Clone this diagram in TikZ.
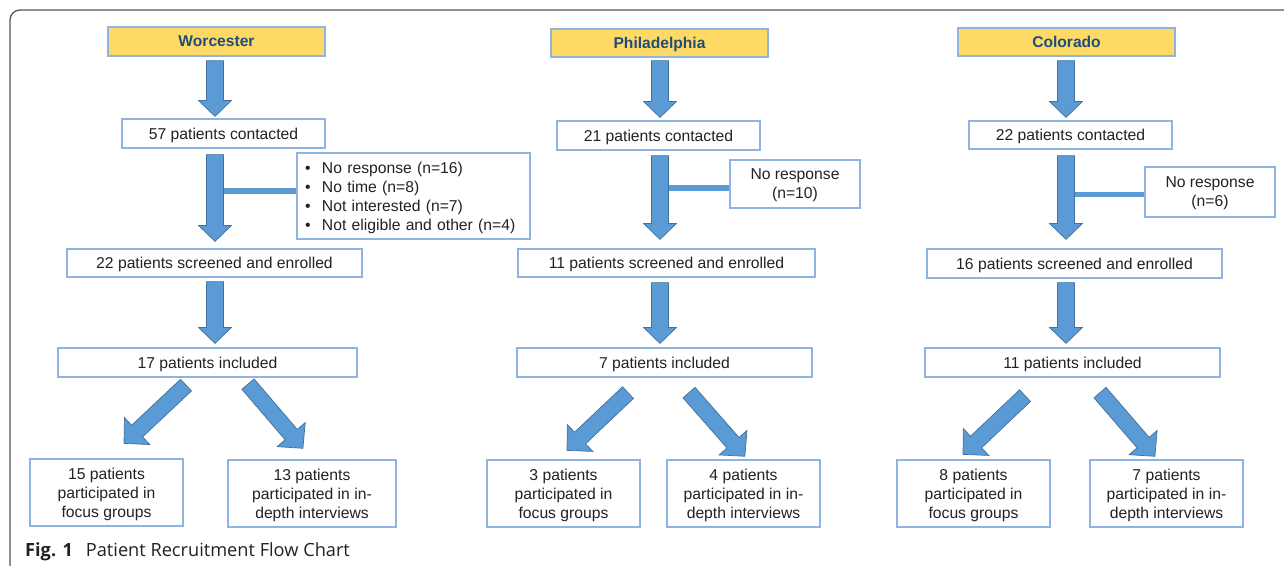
\documentclass[tikz,border=0pt]{standalone}
\usepackage{fontspec}
\setmainfont{Liberation Sans}
\newfontfamily\capfont{Open Sans}
\usetikzlibrary{calc}
\definecolor{arrowfill}{HTML}{5B9BD5}
\definecolor{arrowline}{HTML}{41719C}
\definecolor{boxline}{HTML}{8FB4E0}
\definecolor{headfill}{HTML}{FFD966}
\definecolor{headtext}{HTML}{1F4E79}
\definecolor{framecol}{HTML}{555555}
\definecolor{txt}{HTML}{222222}
% block arrow: start, end, shaft half width, head half width, head length
\newcommand\blockarrow[5]{%
  \path let \p1=(#1), \p2=(#2) in
    \pgfextra{%
      \pgfmathsetmacro\BAtmpa{atan2(\y2-\y1,\x2-\x1)}%
      \pgfmathsetmacro\BAtmpl{veclen(\x2-\x1,\y2-\y1)}%
      \xdef\BAa{\BAtmpa}\xdef\BAl{\BAtmpl}\xdef\BAx{\x1}\xdef\BAy{\y1}};
  \begin{scope}[shift={(\BAx,\BAy)}, rotate=\BAa, x=1pt, y=1pt]
    \filldraw[arrowbody] (0,-#3) -- ({\BAl-#5},-#3) -- ({\BAl-#5},-#4) -- (\BAl,0)
      -- ({\BAl-#5},#4) -- ({\BAl-#5},#3) -- (0,#3) -- cycle;
  \end{scope}}
\begin{document}
\begin{tikzpicture}[x=1pt,y=-1pt,
  basebox/.style={draw=boxline, line width=1.2pt, fill=white, inner sep=0pt, align=center,
    font=\fontsize{15.7}{19}\selectfont, text=txt},
  box/.style={basebox, text depth=0pt},
  headbox/.style={box, fill=headfill, font=\fontsize{15.6}{19}\selectfont\bfseries, text=headtext},
  arrowbody/.style={fill=arrowfill, draw=arrowline, line width=0.7pt},
  barline/.style={draw=arrowfill, line width=5.5pt},
  vsize/.style 2 args={minimum width=#1pt, minimum height=#2pt}]
\useasboundingbox[fill=white] (0,0) rectangle (1284,565);
\draw[framecol, line width=1.3pt, rounded corners=10pt] (10,566) -- (10,10) -- (1285,10);

% ---------- Worcester ----------
\coordinate (wx) at (215,0);
\node[headbox, vsize={217}{29}] (wh) at (216.5,41.5) {Worcester};
\node[box, vsize={203}{29}] (w1) at (223.5,133.5) {57 patients contacted};
\node[basebox, minimum height=86pt, text width=217pt, inner xsep=8pt, align=left,
  text height=11.3pt, text depth=56pt] (wl) at (413.5,196)
  {\makebox[17pt][l]{•}No response (n=16)\\\makebox[17pt][l]{•}No time (n=8)\\\makebox[17pt][l]{•}Not interested (n=7)\\\makebox[17pt][l]{•}Not eligible and other (n=4)};
\node[box, vsize={295}{28}] (w2) at (214.5,263) {22 patients screened and enrolled};
\node[box, vsize={299}{29}] (w3) at (207.5,362.5) {17 patients included};
\node[box, vsize={153}{67}] (w4) at (106.5,492.5) {15 patients\\participated in\\focus groups};
\node[box, vsize={168}{67}] (w5) at (312,493.5) {13 patients\\participated in in-\\depth interviews};

\draw[barline] ($(wx |- wl.west)+(0,-5)$) -- ($(wl.west)+(0,-5)$);
\blockarrow{$(wx |- wh.south)+(0,4)$}{$(wx |- w1.north)+(0,-2)$}{8.5}{16.5}{16}
\blockarrow{$(wx |- w1.south)+(0,6)$}{$(wx |- w2.north)+(0,-7)$}{8.5}{16.5}{16}
\blockarrow{$(wx |- w2.south)+(0,4)$}{$(wx |- w3.north)+(0,-4)$}{8.5}{16.5}{16}
\blockarrow{$(w3.south)+(-21.5,7.5)$}{$(w4.north)+(17.5,-15)$}{8}{18.5}{18}
\blockarrow{$(w3.south)+(40.5,6.5)$}{$(w5.north)+(-9,-11)$}{8}{18.5}{18}

% ---------- Philadelphia ----------
\coordinate (px) at (660,0);
\node[headbox, vsize={217}{28}] (ph) at (659.5,43) {Philadelphia};
\node[box, vsize={203}{29}] (p1) at (658.5,135.5) {21 patients contacted};
\node[box, vsize={130}{48}] (pl) at (795,184) {No response\\(n=10)};
\node[box, vsize={297}{28}] (p2) at (666.5,263) {11 patients screened and enrolled};
\node[box, vsize={295}{29}] (p3) at (664.5,362.5) {7 patients included};
\node[box, vsize={153}{67}] (p4) at (563.5,493.5) {3 patients\\participated in\\focus groups};
\node[box, vsize={153}{67}] (p5) at (743.5,493.5) {4 patients\\participated in in-\\depth interviews};

\draw[barline] ($(px |- pl.west)+(0,4)$) -- ($(pl.west)+(0,4)$);
\blockarrow{$(px |- ph.south)+(0,3)$}{$(px |- p1.north)+(0,-3)$}{8.5}{16.5}{16}
\blockarrow{$(px |- p1.south)+(0,5)$}{$(px |- p2.north)+(0,-9)$}{8.5}{16.5}{16}
\blockarrow{$(px |- p2.south)+(0,5)$}{$(px |- p3.north)+(0,-4)$}{8.5}{16.5}{16}
\blockarrow{$(p3.south)+(-36.5,15)$}{$(p4.north)+(3.5,-9)$}{8}{18.5}{18}
\blockarrow{$(p3.south)+(24.5,15)$}{$(p5.north)+(1.5,-3)$}{8}{18.5}{18}

% ---------- Colorado ----------
\coordinate (cx) at (1066,0);
\node[headbox, vsize={217}{28}] (ch) at (1066.5,42) {Colorado};
\node[box, vsize={203}{28}] (c1) at (1070.5,135) {22 patients contacted};
\node[box, vsize={130}{50}] (cl) at (1210,192) {No response\\(n=6)};
\node[box, vsize={295}{29}] (c2) at (1074.5,263.5) {16 patients screened and enrolled};
\node[box, vsize={295}{29}] (c3) at (1072.5,362.5) {11 patients included};
\node[box, vsize={153}{67}] (c4) at (973.5,493.5) {8 patients\\participated in\\focus groups};
\node[box, vsize={153}{67}] (c5) at (1166.5,493.5) {7 patients\\participated in in-\\depth interviews};

\draw[barline] ($(cx |- cl.west)+(0,2.5)$) -- ($(cl.west)+(0,2.5)$);
\blockarrow{$(cx |- ch.south)+(0,4)$}{$(cx |- c1.north)+(0,-3)$}{8.5}{16.5}{16}
\blockarrow{$(cx |- c1.south)+(0,6)$}{$(cx |- c2.north)+(0,-9)$}{8.5}{16.5}{16}
\blockarrow{$(cx |- c2.south)+(0,4)$}{$(cx |- c3.north)+(0,-4)$}{8.5}{16.5}{16}
\blockarrow{$(c3.south)+(-47.5,18)$}{$(c4.north)+(-10.5,-5)$}{8}{18.5}{18}
\blockarrow{$(c3.south)+(27.5,15)$}{$(c5.north)+(-11.5,-3)$}{8}{18.5}{18}

% ---------- caption ----------
\node[anchor=base west, inner sep=0pt, font=\capfont\fontsize{18.2}{21}\selectfont, text=txt] (cap) at (25,556)
  {\textbf{Fig. 1}\hspace{13pt}Patient Recruitment Flow Chart};
\end{tikzpicture}
\end{document}
